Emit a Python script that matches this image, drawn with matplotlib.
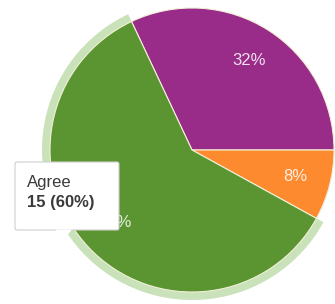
import matplotlib
matplotlib.use('Agg')
import matplotlib.pyplot as plt
from matplotlib.patches import FancyBboxPatch, Polygon

# slice data (clockwise from the top-left boundary)
labels = ['Strongly agree', 'Neutral', 'Agree']
counts = [8, 2, 15]
colors = ['#9a2c89', '#fd8a2f', '#5a9532']
halo_color = '#c9e2b9'
hover = 'Agree'

plt.rcParams['font.family'] = ['Liberation Sans', 'DejaVu Sans']

W, H = 335, 304
fig = plt.figure(figsize=(W / 100, H / 100), dpi=100)
ax = fig.add_axes([0, 0, 1, 1])

cx, cy, r = 192, 154, 142
start = 115.2

# highlight ring behind the hovered slice
ax.pie(counts, center=(cx, cy), radius=r + 8, startangle=start,
       counterclock=False, frame=True,
       colors=[halo_color if l == hover else 'none' for l in labels],
       wedgeprops=dict(linewidth=0))

wedges, texts, autotexts = ax.pie(
    counts, center=(cx, cy), radius=r, startangle=start,
    counterclock=False, frame=True, colors=colors,
    autopct='%1.0f%%', pctdistance=0.75,
    wedgeprops=dict(edgecolor='#f2efd6', linewidth=0.8),
    textprops=dict(color='white', fontsize=12))
for t in autotexts:
    t.set_alpha(0.85)

# tooltip for the hovered slice
total = sum(counts)
n = counts[labels.index(hover)]
x0, y0, bw, bh = 15, 304 - 230, 104, 68
ax.add_patch(FancyBboxPatch((x0, y0), bw, bh, boxstyle='round,pad=0,rounding_size=2',
                            facecolor='white', edgecolor='#d0d0d0', linewidth=0.8, zorder=5))
ax.add_patch(Polygon([(55, y0 + 0.5), (72, y0 + 0.5), (66, y0 - 7)], closed=True,
                     facecolor='white', edgecolor='none', zorder=6))
ax.text(x0 + 12, 304 - 182, hover, fontsize=12, color='#3a3a3a',
        ha='left', va='center', zorder=7)
ax.text(x0 + 12, 304 - 202, f'{n} ({n / total:.0%})', fontsize=12, color='#3a3a3a',
        fontweight='bold', ha='left', va='center', zorder=7)

ax.set_xlim(0, W)
ax.set_ylim(0, H)
ax.set_aspect('equal')
ax.axis('off')
fig.savefig('out.png', dpi=100)
